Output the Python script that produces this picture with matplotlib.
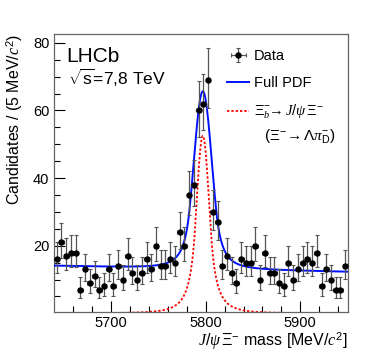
import numpy as np
import matplotlib
matplotlib.use("Agg")
import matplotlib.pyplot as plt
from matplotlib.lines import Line2D

plt.rcParams['font.family'] = ['Liberation Sans', 'DejaVu Sans']
plt.rcParams['mathtext.fontset'] = 'custom'
plt.rcParams['mathtext.rm'] = 'Liberation Sans'
plt.rcParams['mathtext.it'] = 'Liberation Serif:italic'
plt.rcParams['mathtext.bf'] = 'Liberation Sans:bold'

# ---- data (5 MeV bins from 5640 to 5950) ----
bin_low = 5640.0
bin_width = 5.0
counts = [16, 21, 17, 18, 18, 7, 13, 9, 11, 7, 8, 13, 8, 14, 10, 17, 12, 10,
          12, 16, 13, 20, 14, 14, 16, 15, 24, 20, 35, 38, 60, 62, 69, 30, 27,
          14, 17, 12, 9, 16, 15, 15, 20, 10, 18, 12, 12, 9, 8, 15, 10, 13, 15,
          16, 15, 18, 8, 13, 10, 7, 7, 14]

# ---- fit model parameters ----
sig_mean = 5797.0
sig_peak = 52.5
sig_sigma = 6.8
sig_alpha = 1.2
sig_n = 3.0

full_sigma = 9.5
full_alpha = 1.5
full_n = 3.0
bkg_left = 14.1
bkg_right = 12.3

xlo, xhi = 5640, 5950


def dscb(x, mu, sigma, alpha, n):
    t = np.abs((x - mu) / sigma)
    A = (n / alpha) ** n * np.exp(-0.5 * alpha ** 2)
    B = n / alpha - alpha
    core = np.exp(-0.5 * t ** 2)
    tail = A * (B + t) ** (-n)
    return np.where(t < alpha, core, tail)


counts = np.array(counts, dtype=float)
centers = bin_low + bin_width * (np.arange(len(counts)) + 0.5)

# Poisson 68% intervals (Wilson-Hilferty approximation)
n = counts
lower = np.where(n > 0, n * (1 - 1 / (9 * np.maximum(n, 1)) - 1 / (3 * np.sqrt(np.maximum(n, 1)))) ** 3, 0)
upper = (n + 1) * (1 - 1 / (9 * (n + 1)) + 1 / (3 * np.sqrt(n + 1))) ** 3
yerr = np.vstack([n - lower, upper - n])

xs = np.linspace(xlo, xhi, 1200)
bkg = bkg_left + (bkg_right - bkg_left) * (xs - xlo) / (xhi - xlo)
sig = sig_peak * dscb(xs, sig_mean, sig_sigma, sig_alpha, sig_n)
full = bkg + sig_peak * dscb(xs, sig_mean, full_sigma, full_alpha, full_n)

fig = plt.figure(figsize=(3.66, 3.51), dpi=100)
ax = fig.add_axes([0.1484, 0.112, 0.8013, 0.7911])

ax.plot(xs, sig, color='red', lw=1.3, ls=(0, (1.3, 1.1)), zorder=2)
ax.plot(xs, full, color='#0010ff', lw=1.4, zorder=3)
eb = ax.errorbar(centers, counts, yerr=yerr, xerr=bin_width / 2, fmt='o', ms=3.6,
                 color='black', ecolor='#555555', elinewidth=0.9, capsize=1.2,
                 capthick=0.8, zorder=4)
# horizontal bars in black
ax.errorbar(centers, counts, xerr=bin_width / 2, fmt='none', ecolor='black',
            elinewidth=1.0, zorder=5)

ax.set_xlim(xlo, xhi)
ax.set_ylim(0.5, 82.6)
ax.set_xticks([5700, 5800, 5900])
ax.set_xticks(np.arange(5660, 5950, 20), minor=True)
ax.set_yticks([20, 40, 60, 80])
ax.set_yticks(np.arange(5, 82, 5), minor=True)
ax.tick_params(which='both', direction='in', top=False, right=False,
               labelsize=10.5, colors='black')
ax.tick_params(which='major', length=8, width=0.8)
ax.tick_params(which='minor', length=4, width=0.8)
ax.tick_params(axis='x', pad=3)
for s in ax.spines.values():
    s.set_color('0.4')
    s.set_linewidth(0.9)

ax.set_ylabel(r'Candidates / (5 MeV/$\mathit{c}^{2}$)', fontsize=11.5,
              loc='top', labelpad=6)
ax.set_xlabel(r'$\mathit{J/\psi\,\Xi^{-}}$ mass [MeV/$\mathit{c}^{2}$]',
              fontsize=11.5, loc='right', labelpad=0)

ax.text(0.04, 0.955, 'LHCb', transform=ax.transAxes, fontsize=15,
        va='top', ha='left')
ax.text(0.045, 0.88, r'$\sqrt{\mathrm{s}}$=7,8 TeV', transform=ax.transAxes,
        fontsize=12.5, va='top', ha='left')

handles = [eb,
           Line2D([], [], color='#0010ff', lw=1.4),
           Line2D([], [], color='red', lw=1.3, ls=(0, (1.3, 1.1)))]
labels = ['Data', 'Full PDF', r'$\mathit{\Xi_b^{-}\!\!\rightarrow J/\psi\,\Xi^{-}}$']
leg = ax.legend(handles, labels, loc='upper left', bbox_to_anchor=(0.59, 0.945),
                frameon=False, fontsize=10.5, handlelength=1.5, handletextpad=0.3,
                labelspacing=0.88, borderpad=0, borderaxespad=0)
ax.text(0.715, 0.63, r'$(\mathit{\Xi^{-}\!\rightarrow\Lambda\pi^{-}_{\mathrm{D}}})$',
        transform=ax.transAxes, fontsize=11, va='center', ha='left')

fig.savefig('out.png', dpi=100)
